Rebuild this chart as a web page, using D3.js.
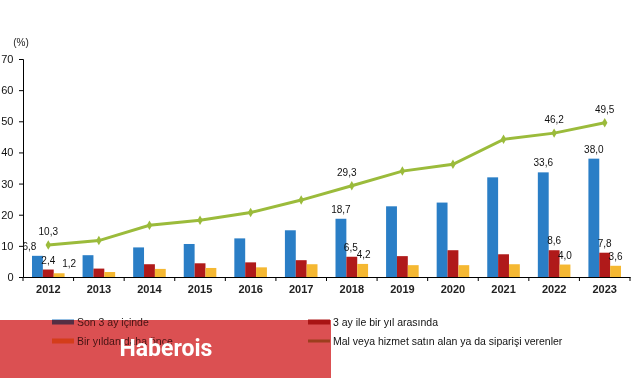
<!DOCTYPE html>
<html><head><meta charset="utf-8">
<script src="https://cdn.jsdelivr.net/npm/d3@7/dist/d3.min.js"></script>
<style>html,body{margin:0;padding:0;background:#fff;}svg{display:block;font-family:"Liberation Sans",Arial,sans-serif;}</style>
</head><body>
<svg id="c" width="641" height="380"></svg>
<script>
const years = ["2012","2013","2014","2015","2016","2017","2018","2019","2020","2021","2022","2023"];
const son3Ay = [6.8,7.0,9.5,10.6,12.4,15.0,18.7,22.7,23.9,32.0,33.6,38.0];
const ucAyBirYil = [2.4,2.7,4.1,4.4,4.7,5.4,6.5,6.7,8.6,7.3,8.6,7.8];
const birYildanOnce = [1.2,1.6,2.6,2.9,3.1,4.1,4.2,3.8,3.8,4.1,4.0,3.6];
const malHizmet = [10.3,11.7,16.6,18.2,20.7,24.7,29.3,34.0,36.2,44.2,46.2,49.5];
const yTicks = [0,10,20,30,40,50,60,70];
const labeledYears = ["2012","2018","2022","2023"];
const seriesNames = ["Son 3 ay içinde","3 ay ile bir yıl arasında","Bir yıldan daha önce","Mal veya hizmet satın alan ya da siparişi verenler"];
const unitLabel = "(%)";
const watermark = "Haberois";

const colors = {blue:"#2A7EC6", red:"#B01A1A", yellow:"#F5B832", green:"#9BBB3B"};
const fmt = v => v.toFixed(1).replace(".", ",");

const svg = d3.select("#c");
const x0 = d3.scaleBand().domain(years).range([23, 630]).padding(0);
const bw = x0.bandwidth();
const barKeys = ["b","r","y"];
const x1 = d3.scaleBand().domain(barKeys).range([9, bw - 9]).padding(0);
const y = d3.scaleLinear().domain([0, 70]).range([277, 59]);

// axes
const yAxis = svg.append("g").attr("transform","translate(23,0)")
  .call(d3.axisLeft(y).tickValues(yTicks).tickSize(4).tickFormat(d3.format("d")));
yAxis.select(".domain").attr("stroke","#000");
yAxis.selectAll(".tick line").attr("stroke","#000");
yAxis.selectAll("text").attr("font-size","11px").attr("fill","#111").attr("x",-9.5).style("font-family","Liberation Sans, Arial, sans-serif");

const xAxis = svg.append("g").attr("transform","translate(0,277)")
  .call(d3.axisBottom(x0).tickSize(0).tickPadding(8));
xAxis.select(".domain").attr("stroke","#000");
xAxis.selectAll("text").attr("font-size","11px").attr("font-weight","bold").attr("fill","#222").style("font-family","Liberation Sans, Arial, sans-serif");
// tick marks at category boundaries
const bounds = years.map(d => x0(d)).concat([x0(years[years.length-1]) + bw]);
svg.append("g").selectAll("line").data(bounds).join("line")
  .attr("x1", d => d).attr("x2", d => d).attr("y1", 277).attr("y2", 281)
  .attr("stroke", "#000");

svg.append("text").attr("x", 21).attr("y", 46).attr("text-anchor","middle")
  .attr("font-size","10px").attr("fill","#222").text(unitLabel);

// bars
const barSeries = [
  {key:"b", vals:son3Ay, color:colors.blue},
  {key:"r", vals:ucAyBirYil, color:colors.red},
  {key:"y", vals:birYildanOnce, color:colors.yellow}
];
barSeries.forEach(s => {
  svg.append("g").selectAll("rect").data(years).join("rect")
    .attr("x", (d) => x0(d) + x1(s.key))
    .attr("width", x1.bandwidth())
    .attr("y", (d,i) => y(s.vals[i]))
    .attr("height", (d,i) => y(0) - y(s.vals[i]))
    .attr("fill", s.color);
});

// line
const line = d3.line().x((d,i) => x0(years[i]) + bw/2).y(d => y(d));
svg.append("path").datum(malHizmet).attr("d", line)
  .attr("fill","none").attr("stroke", colors.green).attr("stroke-width", 3);
svg.append("g").selectAll("path").data(malHizmet).join("path")
  .attr("d", d3.symbol().type(d3.symbolDiamond).size(26))
  .attr("transform", (d,i) => `translate(${x0(years[i]) + bw/2},${y(d)})`)
  .attr("fill", colors.green);

// data labels
const labelOffsets = {"2012":{b:-8,r:0,y:10,l:0},"2018":{b:0,r:-1,y:1,l:-5}};
const lab = svg.append("g").attr("font-size","10px").attr("fill","#111").attr("text-anchor","middle");
years.forEach((yr,i) => {
  if (!labeledYears.includes(yr)) return;
  const off = labelOffsets[yr] || {b:0,r:0,y:0,l:0};
  barSeries.forEach(s => {
    lab.append("text")
      .attr("x", x0(yr) + x1(s.key) + x1.bandwidth()/2 + off[s.key])
      .attr("y", y(s.vals[i]) - 6)
      .text(fmt(s.vals[i]));
  });
  lab.append("text")
    .attr("x", x0(yr) + bw/2 + off.l)
    .attr("y", y(malHizmet[i]) - 10)
    .text(fmt(malHizmet[i]));
});

// legend
const leg = svg.append("g").attr("font-size","10.5px").attr("fill","#111");
const legItems = [
  {name:seriesNames[0], color:colors.blue, type:"bar", x:52, y:322},
  {name:seriesNames[1], color:colors.red, type:"bar", x:308, y:322},
  {name:seriesNames[2], color:colors.yellow, type:"bar", x:52, y:341},
  {name:seriesNames[3], color:colors.green, type:"line", x:308, y:341}
];
legItems.forEach(it => {
  if (it.type === "bar") {
    leg.append("rect").attr("x", it.x).attr("y", it.y - 2.5).attr("width", 22).attr("height", 5).attr("fill", it.color);
  } else {
    leg.append("line").attr("x1", it.x).attr("x2", it.x + 22).attr("y1", it.y).attr("y2", it.y)
      .attr("stroke", it.color).attr("stroke-width", 3);
  }
  leg.append("text").attr("x", it.x + 25).attr("y", it.y + 3.8).text(it.name);
});

// watermark overlay
svg.append("rect").attr("x",0).attr("y",320).attr("width",331).attr("height",58)
  .attr("fill","#D75A5C").style("mix-blend-mode","multiply");
svg.append("rect").attr("x",0).attr("y",320).attr("width",331).attr("height",58)
  .attr("fill","#E63232").attr("opacity",0.25);
svg.append("text").attr("x",166).attr("y",355.5).attr("text-anchor","middle")
  .attr("font-size","23px").attr("font-weight","bold").attr("fill","#fff")
  .style("font-family","Roboto, 'Liberation Sans', Arial, sans-serif").text(watermark);
</script>
</body></html>
